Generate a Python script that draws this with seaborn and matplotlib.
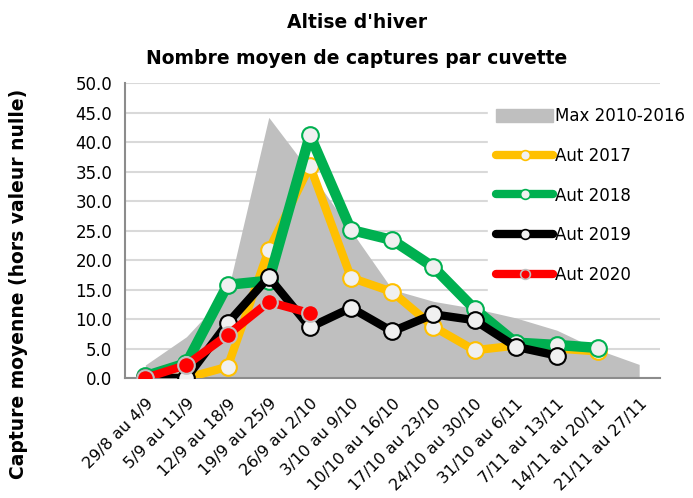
import numpy as np
import pandas as pd
import seaborn as sns
import matplotlib.pyplot as plt
from matplotlib.patches import Patch
from matplotlib.lines import Line2D

semaines = ["29/8 au 4/9", "5/9 au 11/9", "12/9 au 18/9", "19/9 au 25/9", "26/9 au 2/10",
            "3/10 au 9/10", "10/10 au 16/10", "17/10 au 23/10", "24/10 au 30/10",
            "31/10 au 6/11", "7/11 au 13/11", "14/11 au 20/11", "21/11 au 27/11"]
max_2010_2016 = [2.2, 7.0, 14.5, 44.2, 35.0, 25.0, 15.0, 13.0, 11.8, 10.2, 8.1, 4.8, 2.3]
aut_2017 = [0.0, 0.0, 1.9, 21.7, 36.0, 17.0, 14.6, 8.7, 4.7, 5.5, 5.0, 4.5]
aut_2018 = [0.3, 2.5, 15.8, 16.5, 41.2, 25.1, 23.4, 18.8, 11.7, 6.0, 5.6, 5.1]
aut_2019 = [0.0, 0.0, 9.3, 17.1, 8.6, 11.9, 7.9, 10.8, 9.8, 5.3, 3.8]
aut_2020 = [0.0, 2.2, 7.3, 12.9, 11.0]

# nom, valeurs, couleur ligne, bord marqueur, remplissage marqueur, epaisseur
series = [("Aut 2017", aut_2017, "#ffc000", "#ffc000", "#f0f0f0", 6.0),
          ("Aut 2018", aut_2018, "#00b050", "#00b050", "#f0f0f0", 7.5),
          ("Aut 2019", aut_2019, "#000000", "#000000", "#f0f0f0", 6.0),
          ("Aut 2020", aut_2020, "#ff0000", "#bfbfbf", "#ff0000", 6.0)]

sns.set_style("white")
plt.rcParams['font.family'] = ['DejaVu Sans']
plt.rcParams['text.color'] = 'black'
plt.rcParams['axes.labelcolor'] = 'black'

fig = plt.figure(figsize=(6.93, 4.98), dpi=100)
ax = fig.add_axes([0.180, 0.241, 0.772, 0.592])

x = np.arange(len(semaines))
ax.fill_between(x, 0, max_2010_2016, color="#bfbfbf", lw=0, zorder=1)

for i, (nom, vals, col, edge, face, lw) in enumerate(series):
    df = pd.DataFrame({"x": x[:len(vals)], "y": vals})
    sns.lineplot(data=df, x="x", y="y", ax=ax, color=col, lw=lw, marker="o",
                 markersize=12, markerfacecolor=face, markeredgecolor=edge,
                 markeredgewidth=1.5, zorder=3 + i, legend=False)

ax.set_xlim(-0.5, len(semaines) - 0.5)
ax.set_ylim(0, 50)
yt = np.arange(0, 50.1, 5)
ax.set_yticks(yt)
ax.set_yticklabels([f"{v:.1f}" for v in yt], fontsize=12)
ax.set_xticks(np.arange(-0.5, len(semaines)), labels=[])
ax.set_xticks(x, minor=True)
ax.set_xticklabels(semaines, minor=True, rotation=45, ha="right",
                   rotation_mode="anchor", fontsize=11.5)
ax.tick_params(axis="x", which="minor", length=0, pad=13, labelcolor="black")
ax.tick_params(axis="x", which="major", length=6, color="#8c8c8c", direction="out")
ax.tick_params(axis="y", length=6, color="#8c8c8c", direction="out", pad=3, labelcolor="black")
ax.set_xlabel("")
ax.set_ylabel("Capture moyenne (hors valeur nulle)", fontsize=13.5, fontweight="bold")
ax.yaxis.set_label_coords(-0.18, 0.32)
ax.grid(axis="y", color="#d9d9d9", lw=1.5, zorder=0)
ax.set_axisbelow(True)
for s in ["top", "right"]:
    ax.spines[s].set_visible(False)
for s in ["left", "bottom"]:
    ax.spines[s].set_color("#8c8c8c")
    ax.spines[s].set_linewidth(1.5)

fig.text(0.515, 1 - 22 / 498, "Altise d'hiver", fontsize=13.5, fontweight="bold",
         ha="center", va="center")
fig.text(0.515, 1 - 58 / 498, "Nombre moyen de captures par cuvette", fontsize=13.5,
         fontweight="bold", ha="center", va="center")

handles = [Patch(color="#bfbfbf", label="Max 2010-2016")]
for nom, vals, col, edge, face, lw in series:
    handles.append(Line2D([0], [0], color=col, lw=6, marker="o", markersize=7,
                          markerfacecolor=face, markeredgecolor=edge,
                          markeredgewidth=1.2, label=nom))
leg = fig.legend(handles=handles, loc="upper left", bbox_to_anchor=(488 / 693, 1 - 99 / 498),
                 frameon=True, fontsize=12, labelspacing=1.3, handlelength=3.4,
                 handleheight=0.9, handletextpad=0.15, borderpad=0.5, borderaxespad=0)
leg.get_frame().set_edgecolor("white")
leg.get_frame().set_facecolor("white")
leg.get_frame().set_alpha(1)
leg.get_frame().set_boxstyle("square", pad=0)
leg.set_zorder(10)

fig.savefig("out.png", dpi=100)
